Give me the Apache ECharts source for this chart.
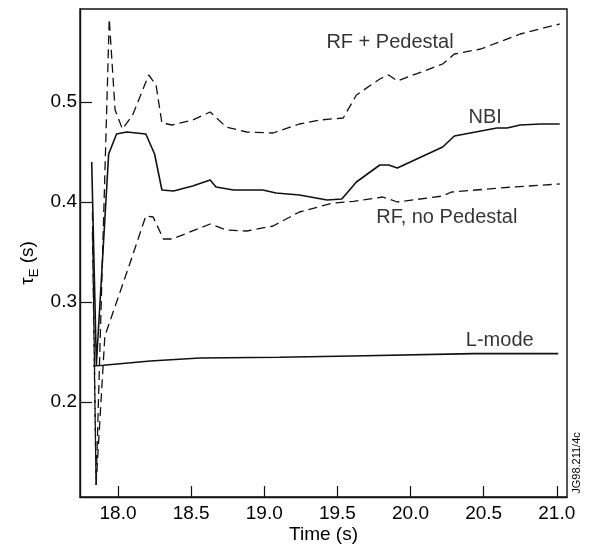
<!DOCTYPE html>
<html><head><meta charset="utf-8">
<script src="https://cdn.jsdelivr.net/npm/echarts@6/dist/echarts.min.js"></script>
<style>html,body{margin:0;padding:0;background:#fff}#c{width:589px;height:546px}</style>
</head><body><div id="c"></div>
<script>
// Tick labels
const xTicks = [18.0, 18.5, 19.0, 19.5, 20.0, 20.5, 21.0];
const yTicks = [0.2, 0.3, 0.4, 0.5];

// NBI (solid)
const nbiT   = [17.82, 17.852, 17.936, 17.99, 18.06, 18.19, 18.25, 18.30, 18.38, 18.51, 18.63, 18.67, 18.79, 18.99, 19.08, 19.24, 19.43, 19.53, 19.63, 19.79, 19.85, 19.91, 20.22, 20.30, 20.59, 20.66, 20.75, 20.89, 21.02];
const nbiTau = [0.440, 0.237, 0.448, 0.468, 0.470, 0.468, 0.448, 0.412, 0.411, 0.416, 0.422, 0.415, 0.412, 0.412, 0.409, 0.407, 0.402, 0.403, 0.420, 0.437, 0.437, 0.434, 0.455, 0.466, 0.474, 0.474, 0.477, 0.478, 0.478];

// RF + Pedestal (dashed)
const rfpT   = [17.825, 17.85, 17.94, 17.98, 18.03, 18.10, 18.21, 18.26, 18.30, 18.37, 18.51, 18.63, 18.74, 18.88, 19.06, 19.24, 19.38, 19.54, 19.63, 19.79, 19.85, 19.91, 20.22, 20.30, 20.48, 20.75, 21.02];
const rfpTau = [0.390, 0.117, 0.583, 0.492, 0.473, 0.487, 0.527, 0.517, 0.479, 0.477, 0.482, 0.490, 0.475, 0.470, 0.469, 0.478, 0.482, 0.484, 0.507, 0.523, 0.527, 0.521, 0.538, 0.548, 0.553, 0.568, 0.578];

// RF, no Pedestal (dashed)
const rfnT   = [17.825, 17.85, 17.91, 18.08, 18.19, 18.24, 18.31, 18.37, 18.63, 18.74, 18.88, 19.06, 19.24, 19.47, 19.61, 19.81, 19.91, 20.22, 20.28, 20.70, 21.02];
const rfnTau = [0.370, 0.117, 0.266, 0.338, 0.386, 0.385, 0.363, 0.363, 0.378, 0.372, 0.371, 0.376, 0.390, 0.399, 0.4007, 0.405, 0.400, 0.406, 0.410, 0.415, 0.418];

// L-mode (solid)
const lmT   = [17.83, 17.90, 18.22, 18.56, 19.105, 19.60, 20.43, 21.01];
const lmTau = [0.236, 0.2367, 0.241, 0.2440, 0.2447, 0.2460, 0.2484, 0.2484];

// Curve labels
const labelNames = ['RF + Pedestal', 'NBI', 'RF, no Pedestal', 'L-mode'];
const labelT     = [19.86, 20.51, 20.248, 20.61];
const labelTau   = [0.5597, 0.4842, 0.385, 0.2617];

const zip = (a, b) => a.map((v, i) => [v, b[i]]);
const FONT = '"Liberation Sans", Arial, Helvetica, sans-serif';
const INK = '#111';

const chart = echarts.init(document.getElementById('c'), null, {renderer: 'canvas'});
const solid = {color: INK, width: 1.6, type: 'solid'};
const dashed = {color: INK, width: 1.3, type: [9, 5]};

chart.setOption({
  animation: false,
  backgroundColor: '#fff',
  textStyle: {fontFamily: FONT},
  grid: {left: 80, right: 22, top: 9, bottom: 49, show: true, borderColor: INK, borderWidth: 1.4,
    backgroundColor: 'transparent', containLabel: false, outerBoundsMode: 'none'},
  xAxis: {
    type: 'value', min: 17.74, max: 21.07,
    name: 'Time (s)', nameLocation: 'middle', nameGap: 28, nameMoveOverlap: false,
    nameTextStyle: {fontSize: 19, color: '#000', fontFamily: FONT},
    axisLine: {show: true, onZero: false, lineStyle: {color: INK, width: 1.4}},
    axisTick: {show: true, inside: true, length: 11, lineStyle: {color: INK, width: 1.2}, customValues: xTicks},
    axisLabel: {show: true, margin: 7, fontSize: 19, color: '#000', fontFamily: FONT, customValues: xTicks,
      formatter: v => v.toFixed(1)},
    splitLine: {show: false}
  },
  yAxis: {
    type: 'value', min: 0.105, max: 0.593,
    name: '{t|τ}{s|E}{t| (s)}', nameLocation: 'middle', nameGap: 39, nameRotate: 90, nameMoveOverlap: false,
    nameTextStyle: {color: '#000', fontFamily: FONT, padding: [0, 20, 0, 0],
      rich: {t: {fontSize: 19, fontFamily: FONT, color: '#000', lineHeight: 26},
             s: {fontSize: 13, fontFamily: FONT, color: '#000', lineHeight: 26, verticalAlign: 'bottom', padding: [8, 0, 0, 0]}}},
    axisLine: {show: true, onZero: false, lineStyle: {color: INK, width: 1.4}},
    axisTick: {show: true, inside: true, length: 12, lineStyle: {color: INK, width: 1.2}, customValues: yTicks},
    axisLabel: {show: true, margin: 3, fontSize: 19, color: '#000', fontFamily: FONT, customValues: yTicks,
      formatter: v => v.toFixed(1)},
    splitLine: {show: false}
  },
  series: [
    {type: 'line', name: 'NBI', data: zip(nbiT, nbiTau), showSymbol: false, lineStyle: solid, z: 3},
    {type: 'line', name: 'RF + Pedestal', data: zip(rfpT, rfpTau), showSymbol: false, lineStyle: dashed, z: 2},
    {type: 'line', name: 'RF, no Pedestal', data: zip(rfnT, rfnTau), showSymbol: false, lineStyle: dashed, z: 2},
    {type: 'line', name: 'L-mode', data: zip(lmT, lmTau), showSymbol: false, lineStyle: solid, z: 3},
    {type: 'scatter', data: labelT.map((t, i) => ({value: [t, labelTau[i]], name: labelNames[i]})),
      symbolSize: 1, itemStyle: {color: 'rgba(0,0,0,0)'}, silent: true, z: 5,
      label: {show: true, position: 'inside', formatter: p => p.name, fontSize: 20, color: '#000', fontFamily: FONT}}
  ],
  graphic: [
    {type: 'text', x: 577, y: 463, rotation: Math.PI / 2,
      style: {text: 'JG98.211/4c', fontSize: 11, fontFamily: FONT, fill: '#000', textAlign: 'center', textVerticalAlign: 'middle'}}
  ]
});
</script></body></html>
